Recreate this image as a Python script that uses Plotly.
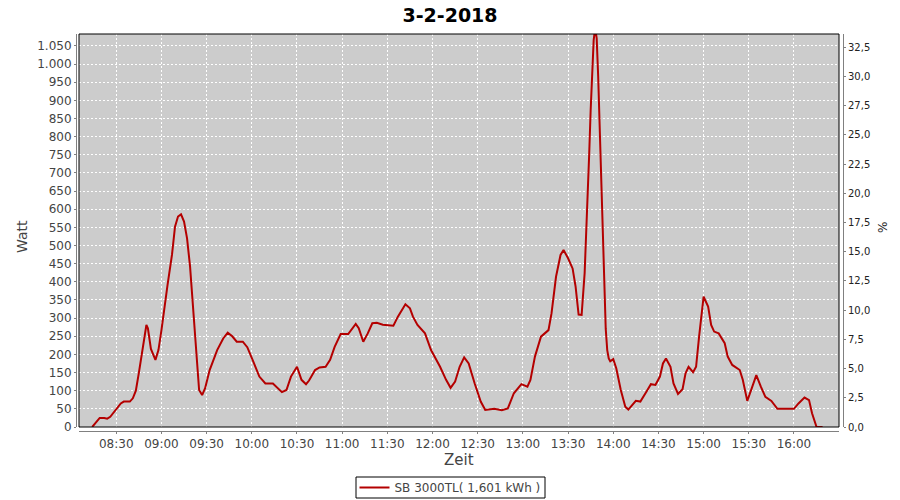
import plotly.graph_objects as go

DAY = "2018-02-03"

times = ["08:14", "08:17", "08:19", "08:22", "08:24", "08:26", "08:30", "08:33", "08:35", "08:39",
         "08:41", "08:43", "08:45", "08:47", "08:50", "08:51", "08:53", "08:56", "08:58", "09:00",
         "09:02", "09:04", "09:07", "09:09", "09:11", "09:13", "09:15", "09:17", "09:19", "09:21",
         "09:23", "09:25", "09:27", "09:29", "09:32", "09:37", "09:41", "09:44", "09:47", "09:50",
         "09:54", "09:57", "10:01", "10:05", "10:09", "10:14", "10:20", "10:23", "10:26", "10:30",
         "10:33", "10:36", "10:38", "10:42", "10:45", "10:49", "10:52", "10:55", "10:59", "11:04",
         "11:09", "11:11", "11:14", "11:17", "11:20", "11:23", "11:27", "11:34", "11:37", "11:40",
         "11:42", "11:45", "11:47", "11:50", "11:55", "11:59", "12:05", "12:09", "12:12", "12:15",
         "12:18", "12:21", "12:24", "12:28", "12:32", "12:35", "12:41", "12:46", "12:50", "12:54",
         "12:59", "13:03", "13:05", "13:08", "13:12", "13:17", "13:19", "13:22", "13:25", "13:27",
         "13:30", "13:33", "13:35", "13:37", "13:39", "13:41", "13:42", "13:43", "13:44", "13:45",
         "13:46", "13:47", "13:48", "13:49", "13:50", "13:51", "13:52", "13:53", "13:54", "13:55",
         "13:56", "13:57", "13:58", "14:00", "14:02", "14:05", "14:08", "14:10", "14:15", "14:18",
         "14:22", "14:25", "14:28", "14:31", "14:33", "14:35", "14:38", "14:40", "14:43", "14:46",
         "14:48", "14:50", "14:53", "14:55", "14:57", "14:59", "15:00", "15:03", "15:05", "15:07",
         "15:10", "15:14", "15:16", "15:19", "15:24", "15:26", "15:28", "15:29", "15:32", "15:35",
         "15:38", "15:41", "15:45", "15:49", "16:00", "16:03", "16:07", "16:10", "16:12", "16:15",
         "16:19"]

watts = [0, 15, 25, 25, 23, 28, 51, 65, 70, 70,
         79, 100, 149, 203, 281, 272, 215, 185, 212, 267,
         322, 390, 475, 552, 580, 586, 566, 520, 442, 331,
         203, 102, 88, 107, 157, 212, 244, 260, 250, 235,
         235, 220, 180, 139, 120, 120, 96, 102, 139, 166,
         130, 118, 128, 157, 164, 166, 185, 221, 256, 256,
         284, 272, 235, 258, 286, 287, 282, 279, 304, 327,
         338, 327, 304, 281, 258, 212, 166, 130, 108, 125,
         166, 192, 175, 120, 70, 47, 50, 46, 51, 93,
         118, 111, 130, 194, 249, 267, 313, 414, 474, 488,
         465, 437, 387, 310, 309, 424, 552, 654, 750, 873,
         965, 1066, 1100, 1071, 965, 824, 662, 489, 360, 271,
         212, 189, 181, 187, 162, 102, 56, 48, 72, 70,
         97, 118, 116, 139, 175, 189, 166, 120, 91, 104,
         148, 166, 151, 166, 249, 332, 359, 332, 281, 263,
         258, 231, 194, 171, 157, 130, 85, 72, 107, 143,
         111, 83, 72, 50, 50, 65, 81, 74, 38, 0,
         0]

x_tick_labels = ["08:30", "09:00", "09:30", "10:00", "10:30", "11:00", "11:30", "12:00",
                 "12:30", "13:00", "13:30", "14:00", "14:30", "15:00", "15:30", "16:00"]
watt_ticks = list(range(0, 1051, 50))
pct_ticks = [i * 2.5 for i in range(14)]

series_name = "SB 3000TL( 1,601 kWh )"
title_text = "3-2-2018"

x_vals = [f"{DAY} {t}" for t in times]
x_tickvals = [f"{DAY} {t}" for t in x_tick_labels]
watt_ticktext = [f"{v:,}".replace(",", ".") for v in watt_ticks]
pct_ticktext = [f"{v:.1f}".replace(".", ",") for v in pct_ticks]

FONT = "DejaVu Sans"
GRAY = "#808080"
TXT = "#444444"

# pixel geometry helpers (paper area: x 76..843, y 34..431)
L, R, T, B = 76, 57, 34, 69
PW, PH = 900 - L - R, 500 - T - B

def px(xp):
    return (xp - L) / PW

def py(yp):
    return (500 - B - yp) / PH

fig = go.Figure()
fig.add_trace(go.Scatter(
    x=x_vals, y=watts, mode="lines", name=series_name,
    line=dict(color="#b40000", width=2),
))
fig.add_trace(go.Scatter(x=[], y=[], yaxis="y2", showlegend=False, hoverinfo="skip"))

fig.update_layout(
    width=900, height=500,
    margin=dict(l=L, r=R, t=T, b=B, autoexpand=False),
    paper_bgcolor="white",
    plot_bgcolor="#cccccc",
    font=dict(family=FONT, size=12, color=TXT),
    title=dict(text="<b>" + title_text + "</b>", x=0.5, xref="container", xanchor="center",
               y=1 - 15 / 500, yref="container", yanchor="middle",
               font=dict(family=FONT, size=19, color="black")),
    xaxis=dict(
        type="date",
        domain=[px(79), px(839)],
        range=[f"{DAY} 08:05:15", f"{DAY} 16:29:54"],
        anchor="free", position=0,
        tickmode="array", tickvals=x_tickvals, ticktext=x_tick_labels,
        showline=True, linecolor=GRAY, linewidth=1,
        ticks="outside", ticklen=2, tickcolor=GRAY,
        showgrid=True, gridcolor="white", gridwidth=1, griddash="2px,2px",
        zeroline=False,
        tickfont=dict(family=FONT, size=12, color=TXT),
    ),
    yaxis=dict(
        domain=[py(427), 1],
        range=[0, 1083],
        anchor="free", position=0,
        tickmode="array", tickvals=watt_ticks, ticktext=watt_ticktext,
        showline=True, linecolor=GRAY, linewidth=1,
        ticks="outside", ticklen=2, tickcolor=GRAY,
        showgrid=True, gridcolor="white", gridwidth=1, griddash="2px,2px",
        zeroline=False,
        tickfont=dict(family=FONT, size=12, color=TXT),
    ),
    yaxis2=dict(
        overlaying="y", side="right",
        anchor="free", position=1,
        range=[0, 33.64],
        tickmode="array", tickvals=pct_ticks, ticktext=pct_ticktext,
        showline=True, linecolor=GRAY, linewidth=1,
        ticks="outside", ticklen=2, tickcolor=GRAY,
        showgrid=False, zeroline=False,
        tickfont=dict(family=FONT, size=10, color="#222222"),
    ),
    legend=dict(
        orientation="h",
        x=0.5, xref="container", xanchor="center",
        y=1 - 473 / 500, yref="container", yanchor="top",
        bgcolor="rgba(0,0,0,0)", borderwidth=0,
        font=dict(family=FONT, size=12, color=TXT),
        itemwidth=30,
    ),
    showlegend=True,
    annotations=[
        dict(text="Watt", xref="paper", yref="paper", x=px(22), y=py(237),
             showarrow=False, textangle=-90, xanchor="center", yanchor="middle",
             font=dict(family=FONT, size=14, color=TXT)),
        dict(text="Zeit", xref="paper", yref="paper", x=px(458.5), y=py(460),
             showarrow=False, xanchor="center", yanchor="middle",
             font=dict(family=FONT, size=15, color=TXT)),
        dict(text="%", xref="paper", yref="paper", x=px(883), y=py(228),
             showarrow=False, textangle=-90, xanchor="center", yanchor="middle",
             font=dict(family=FONT, size=12, color="#222222")),
    ],
    shapes=[
        dict(type="rect", xref="x domain", yref="y domain", x0=0, x1=1, y0=0, y1=1,
             line=dict(color="black", width=1), layer="above"),
        # legend frame
        dict(type="rect", xref="paper", yref="paper",
             x0=px(356), x1=px(545), y0=py(498), y1=py(477),
             line=dict(color="black", width=1), fillcolor="white", layer="below"),
    ],
)

fig.write_html("out.html", config={"displayModeBar": False},
               post_script="document.body.style.margin='0';")
